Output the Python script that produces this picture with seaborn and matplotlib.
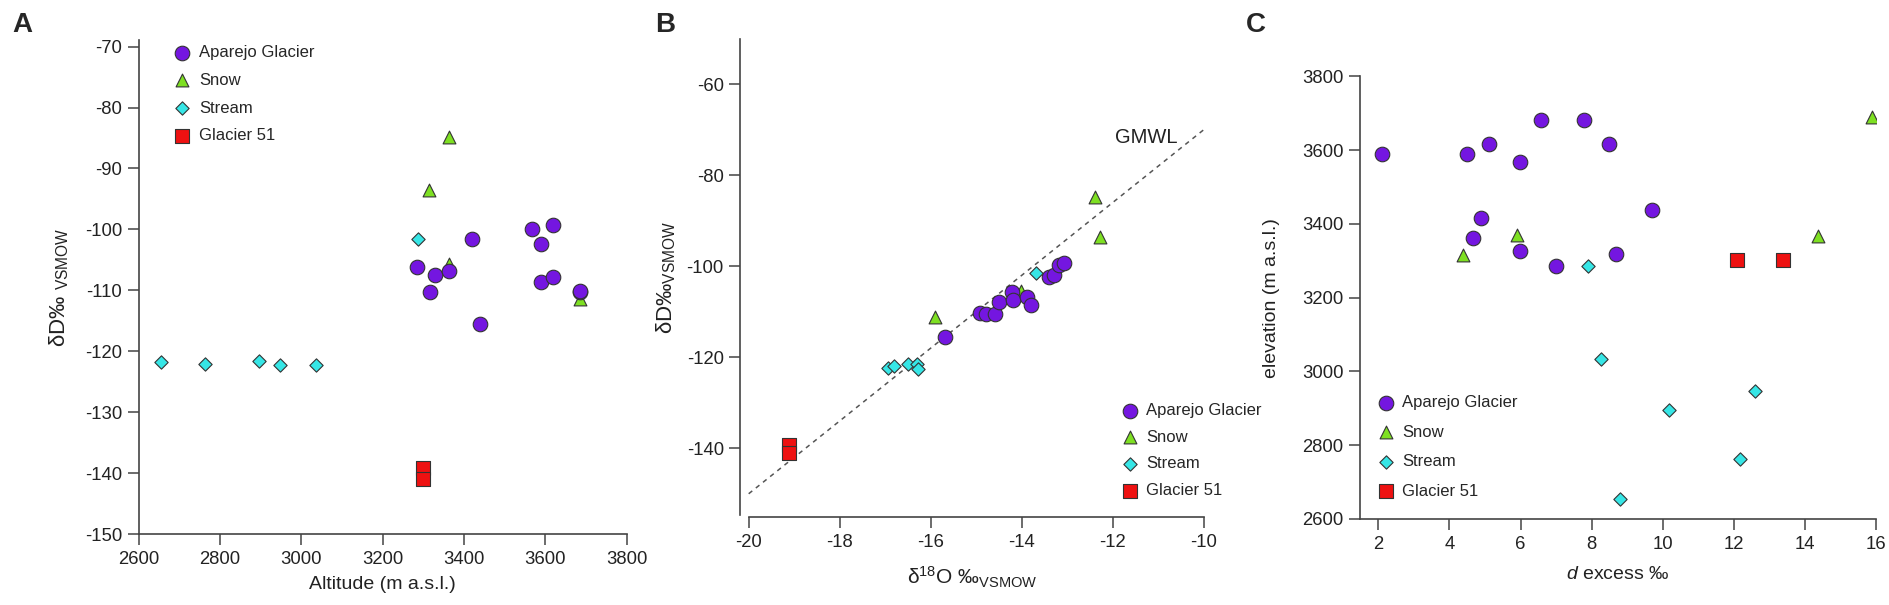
import numpy as np
import pandas as pd
import matplotlib
matplotlib.use('Agg')
import matplotlib.pyplot as plt
import seaborn as sns

# --- data ---
groups = ['Aparejo Glacier', 'Snow', 'Stream', 'Glacier 51']

# panel A: altitude vs dD
alt_aparejo = [3284, 3316, 3328, 3363, 3420, 3440, 3568, 3590, 3590, 3619, 3619, 3685, 3685]
dD_aparejo = [-106.2, -110.2, -107.4, -106.8, -101.6, -115.5, -99.9, -102.4, -108.6, -99.3, -107.8, -110.3, -110.1]
alt_snow = [3363, 3314, 3363, 3686]
dD_snow = [-84.9, -93.5, -105.7, -111.4]
alt_stream = [2654, 2763, 2896, 2948, 3035, 3286]
dD_stream = [-121.7, -122.0, -121.5, -122.3, -122.2, -101.5]
alt_g51 = [3300, 3300]
dD_g51 = [-139.2, -140.9]

# panel B: d18O vs dD
d18O_aparejo = [-15.69, -14.91, -14.79, -14.59, -14.50, -14.22, -14.19, -13.89, -13.80, -13.41, -13.29, -13.18, -13.07]
dDb_aparejo = [-115.5, -110.3, -110.6, -110.4, -107.9, -105.7, -107.5, -106.8, -108.6, -102.3, -101.9, -99.7, -99.4]
d18O_snow = [-12.39, -12.29, -15.90, -14.02]
dDb_snow = [-84.9, -93.5, -111.2, -105.5]
d18O_stream = [-13.69, -16.93, -16.80, -16.50, -16.31, -16.28]
dDb_stream = [-101.4, -122.3, -122.0, -121.4, -121.6, -122.5]
d18O_g51 = [-19.11, -19.11]
dDb_g51 = [-139.2, -141.0]
gmwl_x = [-20, -10]

# panel C: d excess vs elevation
dex_aparejo = [2.09, 4.50, 5.10, 5.98, 6.59, 7.80, 8.48, 4.89, 4.67, 5.98, 6.99, 8.69, 9.69]
elev_aparejo = [3589, 3589, 3617, 3568, 3683, 3683, 3617, 3416, 3362, 3327, 3285, 3319, 3439]
dex_snow = [15.89, 14.39, 5.90, 4.39]
elev_snow = [3690, 3367, 3369, 3317]
dex_stream = [7.89, 8.28, 8.79, 10.18, 12.19, 12.59]
elev_stream = [3285, 3034, 2655, 2896, 2762, 2947]
dex_g51 = [12.10, 13.38]
elev_g51 = [3301, 3301]


def make_df(xs, ys):
    frames = []
    for g, x, y in zip(groups, xs, ys):
        frames.append(pd.DataFrame({'x': x, 'y': y, 'group': g}))
    return pd.concat(frames, ignore_index=True)


df_a = make_df([alt_aparejo, alt_snow, alt_stream, alt_g51],
               [dD_aparejo, dD_snow, dD_stream, dD_g51])
df_b = make_df([d18O_aparejo, d18O_snow, d18O_stream, d18O_g51],
               [dDb_aparejo, dDb_snow, dDb_stream, dDb_g51])
df_c = make_df([dex_aparejo, dex_snow, dex_stream, dex_g51],
               [elev_aparejo, elev_snow, elev_stream, elev_g51])

colors = {'Aparejo Glacier': '#7416E0', 'Snow': '#7EE022',
          'Stream': '#36E6E6', 'Glacier 51': '#EE1111'}
markers = {'Aparejo Glacier': 'o', 'Snow': '^', 'Stream': 'D', 'Glacier 51': 's'}
sizes = {'Aparejo Glacier': 110, 'Snow': 85, 'Stream': 46, 'Glacier 51': 110}
zorders = {'Aparejo Glacier': 4, 'Snow': 3, 'Stream': 3, 'Glacier 51': 3}

sns.set_style('ticks')
plt.rcParams['font.family'] = ['Liberation Sans', 'DejaVu Sans']
plt.rcParams['mathtext.fontset'] = 'custom'
plt.rcParams['mathtext.rm'] = 'Liberation Sans'
plt.rcParams['mathtext.it'] = 'Liberation Sans:italic'
plt.rcParams['axes.unicode_minus'] = False

fig = plt.figure(figsize=(18.89, 6.05), dpi=100)
ax_a = fig.add_axes([0.0734, 0.1169, 0.2584, 0.8162])
ax_b = fig.add_axes([0.3920, 0.1455, 0.2453, 0.7907])
ax_c = fig.add_axes([0.7200, 0.1423, 0.2729, 0.7314])


def draw(ax, df):
    for g in groups:
        sub = df[df['group'] == g]
        sns.scatterplot(data=sub, x='x', y='y', ax=ax, color=colors[g],
                        marker=markers[g], s=sizes[g], edgecolor='#333333',
                        linewidth=0.8, label=g, zorder=zorders[g])


def style(ax):
    sns.despine(ax=ax)
    for sp in ['left', 'bottom']:
        ax.spines[sp].set_color('#444444')
        ax.spines[sp].set_linewidth(1.2)
    ax.tick_params(axis='both', length=8, width=1.1, color='#444444',
                   labelsize=13.3, labelcolor='#222222', pad=4)


def legend(ax, anchor, spacing):
    ax.legend(loc='upper left', bbox_to_anchor=anchor, frameon=False,
              fontsize=12, borderpad=0, borderaxespad=0, handlelength=1.0,
              handletextpad=0.5, labelspacing=spacing, markerscale=1.0)


# A
draw(ax_a, df_a)
ax_a.set_xlim(2600, 3800)
ax_a.set_ylim(-150, -69)
ax_a.set_xticks(range(2600, 3801, 200))
ax_a.set_yticks(range(-150, -69, 10))
ax_a.set_xlabel('Altitude (m a.s.l.)', fontsize=14, color='#222222', labelpad=6)
ax_a.set_ylabel('δD‰ $_{\\mathregular{VSMOW}}$', fontsize=16, color='#222222', labelpad=10)
style(ax_a)
legend(ax_a, (0.072, 0.991), 0.77)

# B
gx = np.array(gmwl_x)
ax_b.plot(gx, 8 * gx + 10, ls=(0, (3, 3)), color='#555555', lw=1.1, zorder=1)
draw(ax_b, df_b)
ax_b.set_xlim(-20.18, -10)
ax_b.set_ylim(-155.1, -50)
ax_b.set_xticks(range(-20, -9, 2))
ax_b.set_yticks(range(-140, -59, 20))
ax_b.spines['bottom'].set_bounds(-20, -10)
ax_b.spines['left'].set_bounds(-154.7, -50)
ax_b.text(-11.26, -71.8, 'GMWL', fontsize=14.5, ha='center', va='center', color='#222222')
ax_b.set_xlabel('δ$^{18}$O ‰$_{\\mathregular{VSMOW}}$', fontsize=15, color='#222222', labelpad=10)
ax_b.set_ylabel('δD‰$_{\\mathregular{VSMOW}}$', fontsize=16, color='#222222', labelpad=6)
style(ax_b)
legend(ax_b, (0.822, 0.2385), 0.7)

# C
draw(ax_c, df_c)
ax_c.set_xlim(1.482, 16)
ax_c.set_ylim(2600, 3800)
ax_c.set_xticks(range(2, 17, 2))
ax_c.set_yticks(range(2600, 3801, 200))
ax_c.set_xlabel('$\\mathit{d}$ excess ‰', fontsize=14, color='#222222', labelpad=10)
ax_c.set_ylabel('elevation (m a.s.l.)', fontsize=14, color='#222222', labelpad=16)
style(ax_c)
legend(ax_c, (0.0336, 0.2795), 0.87)

for lbl, x in [('A', 12), ('B', 655), ('C', 1246)]:
    fig.text(x / 1889, 1 - 12 / 605, lbl, fontsize=20, fontweight='bold', va='top')

fig.savefig('out.png', dpi=100)
